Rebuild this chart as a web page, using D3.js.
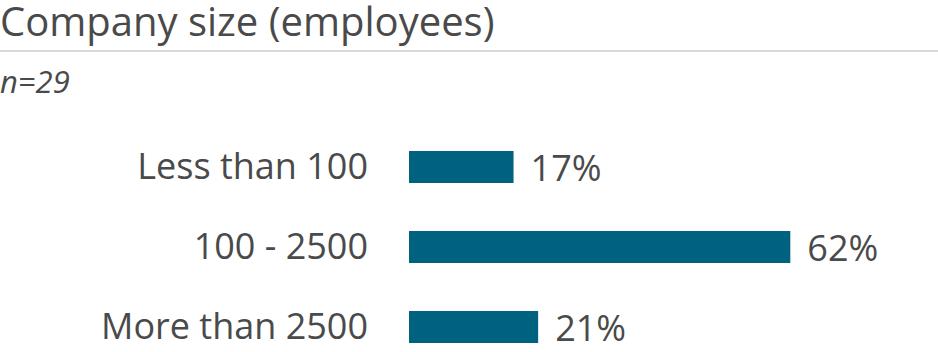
<!DOCTYPE html>
<html>
<head>
<meta charset="utf-8">
<script src="https://cdn.jsdelivr.net/npm/d3@7"></script>
<style>
  body { margin: 0; background: #fff; }
  svg { display: block; font-family: "Open Sans", sans-serif; }
</style>
</head>
<body>
<div id="chart"></div>
<script>
const width = 938;
const height = 352;

const categories = ["Less than 100", "100 - 2500", "More than 2500"];
const shares = [17, 62, 21];
const title = "Company size (employees)";
const note = "n=29";

const textColor = "#4a4a4a";
const barColor = "#00627f";

const svg = d3.select("#chart").append("svg")
  .attr("width", width)
  .attr("height", height);

svg.append("text")
  .attr("x", 0)
  .attr("y", 36)
  .attr("font-size", 40)
  .attr("fill", textColor)
  .text(title);

svg.append("rect")
  .attr("x", 0)
  .attr("y", 50)
  .attr("width", width)
  .attr("height", 2)
  .attr("fill", "#d9d9d9");

svg.append("text")
  .attr("x", 0)
  .attr("y", 93)
  .attr("font-size", 31)
  .attr("font-style", "italic")
  .attr("fill", textColor)
  .text(note);

const data = categories.map((c, i) => ({ label: c, value: shares[i] }));

const x = d3.scaleLinear()
  .domain([0, 100])
  .range([409, 409 + 615]);

const y = d3.scaleBand()
  .domain(categories)
  .range([103, 391])
  .padding(0.6);

svg.append("g")
  .selectAll("rect")
  .data(data)
  .join("rect")
  .attr("x", x(0))
  .attr("y", d => y(d.label))
  .attr("width", d => x(d.value) - x(0))
  .attr("height", y.bandwidth())
  .attr("fill", barColor);

svg.append("g")
  .attr("font-size", 36)
  .attr("fill", textColor)
  .attr("text-anchor", "end")
  .selectAll("text")
  .data(data)
  .join("text")
  .attr("x", 368)
  .attr("y", d => y(d.label) + y.bandwidth() / 2 + 12)
  .text(d => d.label);

svg.append("g")
  .attr("font-size", 36)
  .attr("fill", textColor)
  .selectAll("text")
  .data(data)
  .join("text")
  .attr("x", d => x(d.value) + 17)
  .attr("y", d => y(d.label) + y.bandwidth() / 2 + 14)
  .text(d => d.value + "%");
</script>
</body>
</html>
